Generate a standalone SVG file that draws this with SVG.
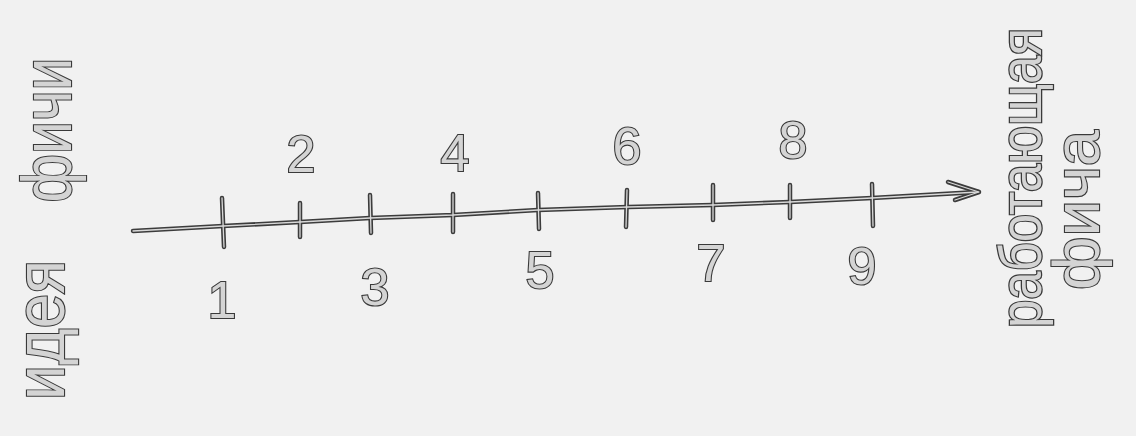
<svg xmlns="http://www.w3.org/2000/svg" xmlns:xlink="http://www.w3.org/1999/xlink" width="1136" height="436" viewBox="0 0 1136 436">
  <defs>
    <style>
      .pen { fill: none; stroke: #3c3c3c; stroke-width: 4.5; stroke-linecap: round; stroke-linejoin: round; }
      .hi { fill: none; stroke: #d9d9d9; stroke-width: 1.3; stroke-linecap: round; stroke-linejoin: round; }
      .num { font-family: "Liberation Sans", "DejaVu Sans", sans-serif; font-size: 52px; fill: #d4d4d4; stroke: #3a3a3a; stroke-width: 2.2; paint-order: stroke; text-anchor: middle; }
      .word { font-family: "Liberation Sans", "DejaVu Sans", sans-serif; fill: #d4d4d4; stroke: #3a3a3a; stroke-width: 2.2; paint-order: stroke; text-anchor: middle; dominant-baseline: central; }
    </style>
    <path id="axis" d="M133,231 L223,226 L300,222 L370,218 L453,215 L538,210 L628,207 L713,205 L790,202 L872,198 L978,192"/>
    <path id="head" d="M948,182 L979,192 L955,200"/>
    <path id="ticks" d="M222,198 L224,247 M300,203 L300,237 M370,195 L371,233 M453,194 L453,232 M538,193 L539,229 M627,190 L626,227 M713,185 L713,220 M790,185 L790,218 M872,184 L873,226"/>
  </defs>
  <rect width="1136" height="436" fill="#f1f1f1"/>

  <g id="connectors">
    <use xlink:href="#axis" class="pen"/>
    <use xlink:href="#head" class="pen"/>
    <use xlink:href="#ticks" class="pen"/>
    <use xlink:href="#axis" class="hi"/>
    <use xlink:href="#head" class="hi"/>
    <use xlink:href="#ticks" class="hi"/>
  </g>

  <g id="label-start">
    <text class="word" x="40" y="330" font-size="70" textLength="140" lengthAdjust="spacingAndGlyphs" transform="rotate(-90 40 330)">идея</text>
    <text class="word" x="47" y="130" font-size="70" textLength="145" lengthAdjust="spacingAndGlyphs" transform="rotate(-90 47 130)">фичи</text>
  </g>

  <g id="label-end">
    <text class="word" x="0" y="0" font-size="51" textLength="300" lengthAdjust="spacingAndGlyphs" transform="translate(1021 178) rotate(-90) scale(1 1.15)">работающая</text>
    <text class="word" x="1077" y="210" font-size="64" textLength="160" lengthAdjust="spacingAndGlyphs" transform="rotate(-90 1077 210)">фича</text>
  </g>

  <g id="n1"><text class="num" x="222" y="318">1</text></g>
  <g id="n2"><text class="num" x="301" y="172">2</text></g>
  <g id="n3"><text class="num" x="375" y="305">3</text></g>
  <g id="n4"><text class="num" x="455" y="171">4</text></g>
  <g id="n5"><text class="num" x="540" y="288">5</text></g>
  <g id="n6"><text class="num" x="627" y="164">6</text></g>
  <g id="n7"><text class="num" x="711" y="281">7</text></g>
  <g id="n8"><text class="num" x="793" y="158">8</text></g>
  <g id="n9"><text class="num" x="862" y="284">9</text></g>
</svg>
